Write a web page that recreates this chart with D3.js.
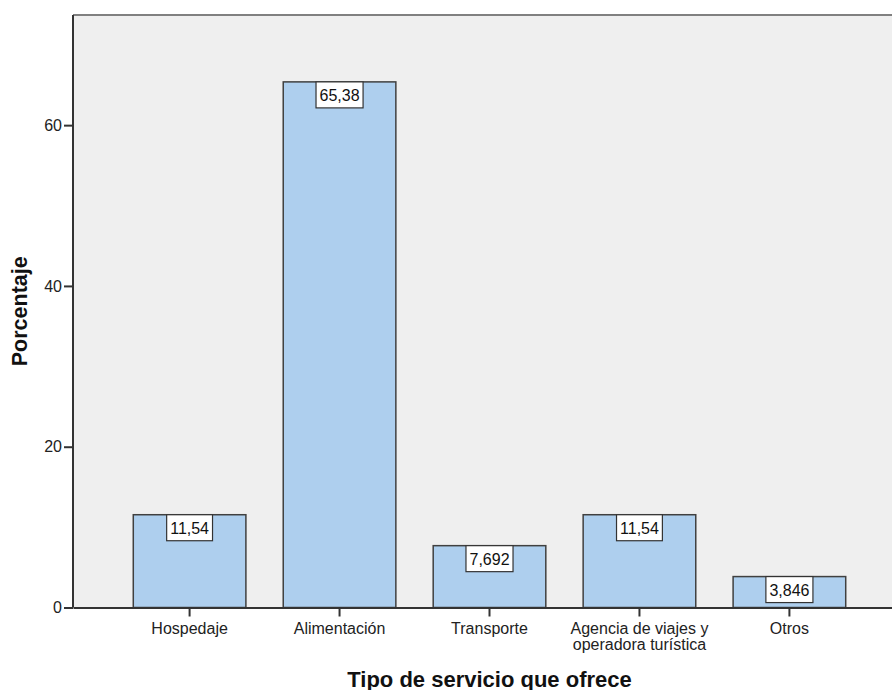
<!DOCTYPE html>
<html>
<head>
<meta charset="utf-8">
<script src="https://cdn.jsdelivr.net/npm/d3@7/dist/d3.min.js"></script>
<style>
  html, body { margin: 0; padding: 0; background: #fff; }
  svg { display: block; font-family: "Liberation Sans", Arial, sans-serif; }
</style>
</head>
<body>
<svg id="chart" width="892" height="690"></svg>
<script>
// Tipo de servicio que ofrece — porcentaje por categoría
const categories = ["Hospedaje", "Alimentación", "Transporte", "Agencia de viajes y\noperadora turística", "Otros"];
const percentages = [11.54, 65.38, 7.692, 11.54, 3.846];
const yTicks = [0, 20, 40, 60];
const yTitle = "Porcentaje";
const xTitle = "Tipo de servicio que ofrece";

const svg = d3.select("#chart");
const plot = { left: 73, right: 906, top: 15, bottom: 607.5 };

const x = d3.scaleBand()
  .domain(categories)
  .range([plot.left, plot.right])
  .paddingInner(0.249)
  .paddingOuter(0.402);

const y = d3.scaleLinear()
  .domain([0, 73.7])
  .range([plot.bottom, plot.top]);

const fmt = d3.formatLocale({ decimal: ",", thousands: ".", grouping: [3], currency: ["", ""] }).format(".4~r");

// plot background
svg.append("rect")
  .attr("x", plot.left).attr("y", plot.top)
  .attr("width", plot.right - plot.left).attr("height", plot.bottom - plot.top)
  .attr("fill", "#efefef");

// top frame line
svg.append("line")
  .attr("x1", plot.left).attr("x2", plot.right)
  .attr("y1", plot.top).attr("y2", plot.top)
  .attr("stroke", "#808080").attr("stroke-width", 2);

// bars
svg.append("g").selectAll("rect")
  .data(percentages)
  .join("rect")
  .attr("x", (d, i) => x(categories[i]))
  .attr("y", d => y(d))
  .attr("width", x.bandwidth())
  .attr("height", d => y(0) - y(d))
  .attr("fill", "#aecfee")
  .attr("stroke", "#404040")
  .attr("stroke-width", 1.5);

// value labels in white boxes at the top of each bar
const labels = svg.append("g").selectAll("g")
  .data(percentages)
  .join("g")
  .attr("transform", (d, i) => `translate(${x(categories[i]) + x.bandwidth() / 2},${y(d)})`);

labels.each(function (d) {
  const g = d3.select(this);
  const box = g.append("rect");
  const t = g.append("text")
    .attr("text-anchor", "middle")
    .attr("y", 19)
    .attr("font-size", 16)
    .attr("fill", "#111")
    .text(fmt(d));
  const w = t.node().getComputedTextLength() + 7;
  box.attr("x", -w / 2).attr("y", 0)
    .attr("width", w).attr("height", 26)
    .attr("fill", "#fff")
    .attr("stroke", "#333")
    .attr("stroke-width", 1.2);
});

// y axis
const yAxis = svg.append("g")
  .attr("transform", `translate(${plot.left},0)`)
  .call(d3.axisLeft(y).tickValues(yTicks).tickSize(9).tickPadding(2).tickFormat(d3.format("d")));
yAxis.select(".domain").attr("stroke", "#333").attr("stroke-width", 2)
  .attr("d", `M0,${plot.top}V${plot.bottom}`);
yAxis.selectAll(".tick line").attr("stroke", "#333").attr("stroke-width", 2);
yAxis.selectAll(".tick text").attr("font-size", 16).attr("fill", "#222")
  .attr("font-family", "Liberation Sans, Arial, sans-serif");

// x axis
const xAxis = svg.append("g")
  .attr("transform", `translate(0,${plot.bottom})`)
  .call(d3.axisBottom(x).tickSize(9).tickSizeOuter(0).tickFormat(() => ""));
xAxis.select(".domain").attr("stroke", "#333").attr("stroke-width", 2);
xAxis.selectAll(".tick line").attr("stroke", "#333").attr("stroke-width", 2);

xAxis.selectAll(".tick").append("text")
  .attr("text-anchor", "middle")
  .attr("font-size", 16)
  .attr("font-family", "Liberation Sans, Arial, sans-serif")
  .attr("fill", "#222")
  .each(function (d) {
    const lines = d.split("\n");
    d3.select(this).selectAll("tspan")
      .data(lines)
      .join("tspan")
      .attr("x", 0)
      .attr("y", (l, i) => 26.5 + i * 15.5)
      .text(l => l);
  });

// axis titles
svg.append("text")
  .attr("transform", `translate(27,${(plot.top + plot.bottom) / 2}) rotate(-90)`)
  .attr("text-anchor", "middle")
  .attr("font-size", 21.5)
  .attr("font-weight", "bold")
  .attr("fill", "#111")
  .text(yTitle);

svg.append("text")
  .attr("x", (plot.left + plot.right) / 2)
  .attr("y", 686.5)
  .attr("text-anchor", "middle")
  .attr("font-size", 22)
  .attr("font-weight", "bold")
  .attr("fill", "#111")
  .text(xTitle);
</script>
</body>
</html>
